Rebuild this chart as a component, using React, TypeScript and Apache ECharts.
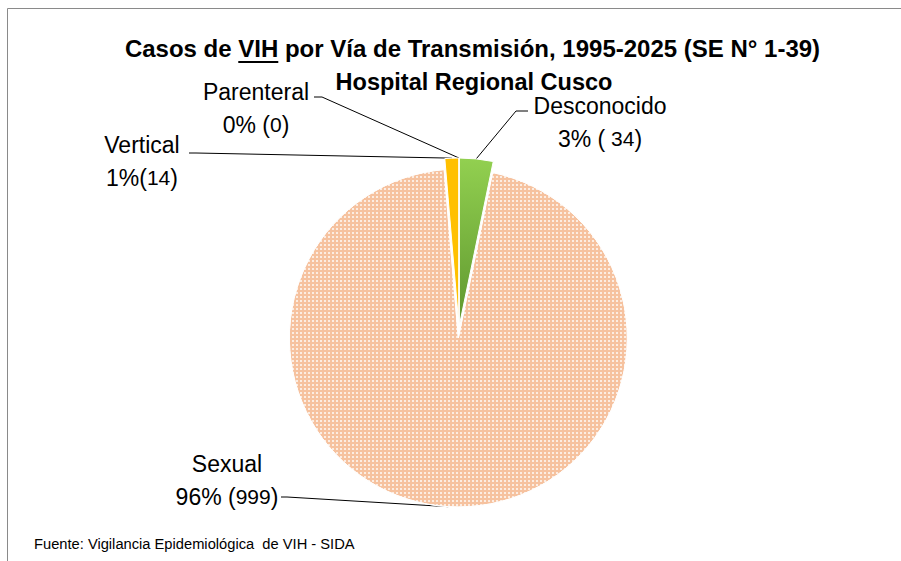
import React, { useEffect, useRef } from "react";
import * as echarts from "echarts";

// ---- data ----
const categories = ["Desconocido", "Sexual", "Vertical", "Parenteral"];
const values = [34, 999, 14, 0];
const percentText = ["3%", "96%", "1%", "0%"];
const sepBefore = [" ", " ", "", " "];
const padInside = [" ", "", "", ""];
const explodedCategory = "Sexual";
const titleLine1 = "Casos de VIH por Vía de Transmisión, 1995-2025 (SE N° 1-39)";
const titleLine2 = "Hospital Regional Cusco";
const sourceText = "Fuente: Vigilancia Epidemiológica  de VIH - SIDA";

// ---- layout (label anchors & leader elbows) ----
const labelAnchor = [
  [600, 122],
  [227, 480],
  [142, 161],
  [256, 108],
];
const leaderElbow = [
  [[516, 111], [528, 111]],
  [[287, 497], [281, 497]],
  [[196, 153], [189, 153]],
  [[322, 97], [314, 97]],
];

const FONT = "'Liberation Sans', Arial, sans-serif";
const CENTER = [459, 327];
const RADIUS = 169;
const EXPLODE = 11;

export default function App() {
  const ref = useRef<HTMLDivElement>(null);

  useEffect(() => {
    if (!ref.current) return;
    const chart = echarts.init(ref.current, null, { renderer: "svg" });

    const ctx = document.createElement("canvas").getContext("2d")!;
    ctx.font = `bold 24px ${FONT}`;
    const fullW = ctx.measureText(titleLine1).width;
    const preW = ctx.measureText("Casos de ").width;
    const vihW = ctx.measureText("VIH").width;
    const titleCx = 472.5;
    const ulX1 = titleCx - fullW / 2 + preW;
    const ulX2 = ulX1 + vihW;

    const colors: any[] = [
      new echarts.graphic.LinearGradient(0, 0, 0, 1, [
        { offset: 0, color: "#92D050" },
        { offset: 1, color: "#5E962E" },
      ]),
      "#F6C29F",
      "#FFC000",
      "#A5A5A5",
    ];

    // explode direction of the exploded slice (mid-angle, clockwise from 12 o'clock)
    const total = values.reduce((a, b) => a + b, 0);
    const ei = categories.indexOf(explodedCategory);
    const before = values.slice(0, ei).reduce((a, b) => a + b, 0);
    const midFrac = (before + values[ei] / 2) / total;
    const ang = midFrac * 2 * Math.PI;
    const center2 = [CENTER[0] + EXPLODE * Math.sin(ang), CENTER[1] - EXPLODE * Math.cos(ang)];

    const transparent = { color: "rgba(0,0,0,0)", borderWidth: 0 };

    const makeData = (exploded: boolean) =>
      categories.map((name, i) => {
        const mine = (name === explodedCategory) === exploded;
        const item: any = {
          name,
          value: values[i],
          itemStyle: mine ? { color: colors[i] } : transparent,
          label: { show: mine },
          labelLine: { show: mine },
        };
        if (mine && name === explodedCategory) {
          item.itemStyle.decal = {
            symbol: "rect",
            symbolSize: 1,
            dashArrayX: [2, 2],
            dashArrayY: [2, 2],
            color: "rgba(255,255,255,0.7)",
            rotation: 0,
          };
        }
        return item;
      });

    const baseSeries = (center: number[], exploded: boolean) => ({
      type: "pie",
      center,
      radius: [0, RADIUS],
      startAngle: 90,
      clockwise: true,
      avoidLabelOverlap: false,
      silent: true,
      itemStyle: { borderColor: "#ffffff", borderWidth: 1 },
      emphasis: { disabled: true },
      label: {
        show: true,
        position: "outside",
        fontFamily: FONT,
        color: "#000",
        lineHeight: 33,
        align: "center",
        formatter: (p: any) => {
          const i = p.dataIndex;
          return `{a|${p.name}}\n{a|${percentText[i]}${sepBefore[i]}(}{b|${padInside[i]}${p.value}}{a|)}`;
        },
        rich: {
          a: { fontSize: 23, fontFamily: FONT, color: "#000", lineHeight: 33 },
          b: { fontSize: 21, fontFamily: FONT, color: "#000", lineHeight: 33 },
        },
      },
      labelLine: {
        show: true,
        length: 10,
        length2: 10,
        lineStyle: { color: "#000", width: 1 },
      },
      labelLayout: (params: any) => {
        const i = params.dataIndex;
        const pts = params.labelLinePoints;
        const start = pts && pts[0] ? pts[0] : [CENTER[0], CENTER[1] - RADIUS];
        return {
          x: labelAnchor[i][0],
          y: labelAnchor[i][1],
          align: "center",
          verticalAlign: "middle",
          hideOverlap: false,
          labelLinePoints: [start, leaderElbow[i][0], leaderElbow[i][1]],
        };
      },
      data: makeData(exploded),
    });

    chart.setOption({
      animation: false,
      backgroundColor: "#ffffff",
      graphic: [
        {
          type: "rect",
          z: 0,
          shape: { x: 7.5, y: 8.5, width: 1200, height: 1200 },
          style: { fill: "none", stroke: "#8a8a8a", lineWidth: 1 },
        },
        {
          type: "text",
          x: titleCx,
          y: 48,
          style: {
            text: titleLine1,
            font: `bold 24px ${FONT}`,
            fill: "#000",
            textAlign: "center",
            textVerticalAlign: "middle",
          },
        },
        {
          type: "line",
          shape: { x1: ulX1, y1: 62, x2: ulX2, y2: 62 },
          style: { stroke: "#000", lineWidth: 2 },
        },
        {
          type: "text",
          x: 474,
          y: 82,
          style: {
            text: titleLine2,
            font: `bold 23.5px ${FONT}`,
            fill: "#000",
            textAlign: "center",
            textVerticalAlign: "middle",
          },
        },
        {
          type: "text",
          x: 34,
          y: 544,
          style: {
            text: sourceText,
            font: `14.7px ${FONT}`,
            fill: "#000",
            textAlign: "left",
            textVerticalAlign: "middle",
          },
        },
      ],
      series: [baseSeries(center2, true), baseSeries(CENTER, false)],
    });

    return () => chart.dispose();
  }, []);

  return (
    <div
      ref={ref}
      style={{ position: "fixed", left: 0, top: 0, width: 901, height: 561 }}
    />
  );
}
